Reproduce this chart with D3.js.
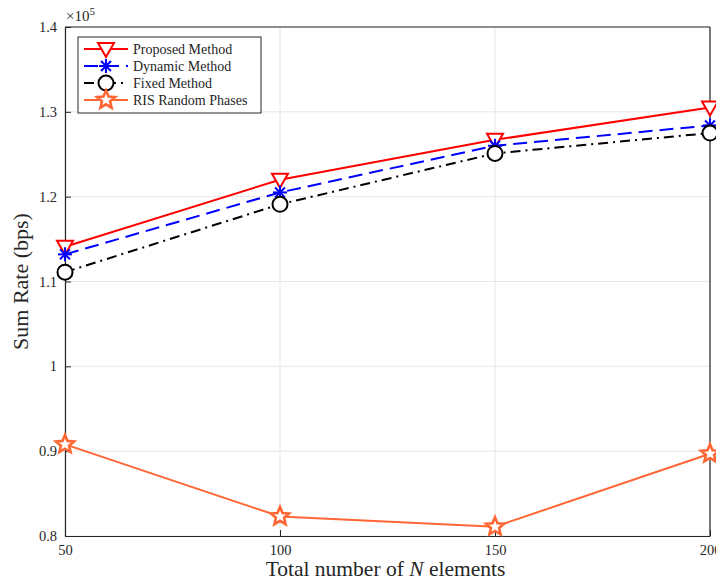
<!DOCTYPE html>
<html>
<head>
<meta charset="utf-8">
<script src="https://cdn.jsdelivr.net/npm/d3@7"></script>
<style>
    body { margin: 0; background: #fff; }
    svg { display: block; }
    text { font-family: "Liberation Serif", "DejaVu Serif", serif; }
</style>
</head>
<body>
<div id="chart"></div>
<script>
    'use strict';

    // data (bps)
    var elements = [50, 100, 150, 200];
    var proposed = [1.141e5, 1.220e5, 1.267e5, 1.305e5];
    var dynamic = [1.132e5, 1.205e5, 1.260e5, 1.284e5];
    var fixed = [1.111e5, 1.191e5, 1.251e5, 1.275e5];
    var randomPhases = [0.908e5, 0.823e5, 0.811e5, 0.897e5];

    var xTicks = [50, 100, 150, 200];
    var yTicks = [0.8e5, 0.9e5, 1.0e5, 1.1e5, 1.2e5, 1.3e5, 1.4e5];

    var width = 716, height = 583;
    var margin = {top: 27, right: 6, bottom: 47, left: 65};
    var axis_color = "#262626";
    var grid_color = "#e6e6e6";

    var svg = d3.select("#chart").append("svg")
        .attr("width", width)
        .attr("height", height);

    var x = d3.scaleLinear().domain([50, 200])
        .range([margin.left, width - margin.right]);
    var y = d3.scaleLinear().domain([0.8e5, 1.4e5])
        .range([height - margin.bottom, margin.top]);

    // grid
    var grid = svg.append("g").attr("class", "grid");
    grid.selectAll(".gx").data(xTicks).enter().append("line")
        .attr("x1", function(d) { return x(d); })
        .attr("x2", function(d) { return x(d); })
        .attr("y1", y.range()[0]).attr("y2", y.range()[1])
        .style("stroke", grid_color).style("stroke-width", 1);
    grid.selectAll(".gy").data(yTicks).enter().append("line")
        .attr("y1", function(d) { return y(d); })
        .attr("y2", function(d) { return y(d); })
        .attr("x1", x.range()[0]).attr("x2", x.range()[1])
        .style("stroke", grid_color).style("stroke-width", 1);

    // axes, ticks pointing inward like matlab
    var fmt = function(d) { return d3.format("")(+(d / 1e5).toFixed(1)); };
    var xAxis = svg.append("g")
        .attr("transform", "translate(0," + y.range()[0] + ")")
        .call(d3.axisBottom(x).tickValues(xTicks).tickSizeInner(-6).tickSizeOuter(0).tickPadding(9));
    var yAxis = svg.append("g")
        .attr("transform", "translate(" + x.range()[0] + ",0)")
        .call(d3.axisLeft(y).tickValues(yTicks).tickFormat(fmt).tickSizeInner(-6).tickSizeOuter(0).tickPadding(8));
    [xAxis, yAxis].forEach(function(a) {
        a.select(".domain").style("stroke", axis_color).style("stroke-width", 1.2);
        a.selectAll(".tick line").style("stroke", axis_color);
        a.selectAll(".tick text").style("fill", axis_color)
            .style("font-size", "14.5px")
            .style("font-family", '"Liberation Serif", serif');
    });

    // box
    svg.append("line")
        .attr("x1", x.range()[0]).attr("x2", x.range()[1])
        .attr("y1", y.range()[1]).attr("y2", y.range()[1])
        .style("stroke", axis_color).style("stroke-width", 1.2);
    svg.append("line")
        .attr("x1", x.range()[1]).attr("x2", x.range()[1])
        .attr("y1", y.range()[0]).attr("y2", y.range()[1])
        .style("stroke", axis_color).style("stroke-width", 1.2);

    // exponent label
    var expo = svg.append("text")
        .attr("x", x.range()[0] + 1).attr("y", 21)
        .style("font-size", "15px").style("fill", axis_color);
    expo.append("tspan").text("\u00d710");
    expo.append("tspan").attr("dy", -6).style("font-size", "11px").text("5");

    // axis labels
    svg.append("text")
        .attr("transform", "translate(28," + ((y.range()[0] + y.range()[1]) / 2) + ")rotate(-90)")
        .attr("text-anchor", "middle")
        .style("font-size", "22px").style("fill", axis_color)
        .text("Sum Rate (bps)");
    var xl = svg.append("text")
        .attr("x", (x.range()[0] + x.range()[1]) / 2 - 2).attr("y", 576)
        .attr("text-anchor", "middle")
        .style("font-size", "21.5px").style("fill", axis_color);
    xl.append("tspan").text("Total number of ");
    xl.append("tspan").style("font-style", "italic").text("N");
    xl.append("tspan").text(" elements");

    // marker shapes
    var markers = {
        triangle: function(g, c) {
            g.append("path").attr("d", "M-8,-6L8,-6L0,8Z")
                .style("fill", "#fff").style("stroke", c).style("stroke-width", 2);
        },
        asterisk: function(g, c) {
            var r = 7;
            [0, 45, 90, 135].forEach(function(a) {
                var t = a * Math.PI / 180;
                g.append("line")
                    .attr("x1", -r * Math.cos(t)).attr("y1", -r * Math.sin(t))
                    .attr("x2", r * Math.cos(t)).attr("y2", r * Math.sin(t))
                    .style("stroke", c).style("stroke-width", 2);
            });
        },
        circle: function(g, c) {
            g.append("circle").attr("r", 7.5)
                .style("fill", "#fff").style("stroke", c).style("stroke-width", 2);
        },
        star: function(g, c) {
            var pts = [];
            for (var i = 0; i < 10; i++) {
                var r = i % 2 === 0 ? 9.5 : 4.3;
                var t = -Math.PI / 2 + i * Math.PI / 5;
                pts.push([r * Math.cos(t), r * Math.sin(t)]);
            }
            g.append("path").attr("d", "M" + pts.join("L") + "Z")
                .style("fill", "#fff").style("stroke", c).style("stroke-width", 2.6)
                .style("stroke-linejoin", "miter");
        }
    };

    var series = [
        {name: "Proposed Method", values: proposed, color: "#ff0000", dash: null, marker: "triangle"},
        {name: "Dynamic Method", values: dynamic, color: "#0000ff", dash: "14,7", marker: "asterisk"},
        {name: "Fixed Method", values: fixed, color: "#000000", dash: "10,5,2,5", marker: "circle"},
        {name: "RIS Random Phases", values: randomPhases, color: "#ff6633", dash: null, marker: "star"}
    ];

    var line = d3.line()
        .x(function(d, i) { return x(elements[i]); })
        .y(function(d) { return y(d); });

    series.forEach(function(s) {
        svg.append("path")
            .datum(s.values)
            .attr("d", line)
            .style("fill", "none")
            .style("stroke", s.color)
            .style("stroke-width", 2)
            .style("stroke-dasharray", s.dash);
        s.values.forEach(function(v, i) {
            var g = svg.append("g")
                .attr("transform", "translate(" + x(elements[i]) + "," + y(v) + ")");
            markers[s.marker](g, s.color);
        });
    });

    // legend
    var legend = svg.append("g").attr("transform", "translate(78,37)");
    legend.append("rect")
        .attr("width", 183).attr("height", 76)
        .style("fill", "#fff").style("stroke", axis_color).style("stroke-width", 1);
    series.forEach(function(s, i) {
        var row = legend.append("g").attr("transform", "translate(0," + (12 + i * 17) + ")");
        row.append("line")
            .attr("x1", 6).attr("x2", 50)
            .style("stroke", s.color).style("stroke-width", 2)
            .style("stroke-dasharray", s.dash);
        var m = row.append("g").attr("transform", "translate(28,0)");
        markers[s.marker](m, s.color);
        row.append("text")
            .attr("x", 55).attr("y", 4.5)
            .style("font-size", "14px").style("fill", axis_color)
            .text(s.name);
    });
</script>
</body>
</html>
